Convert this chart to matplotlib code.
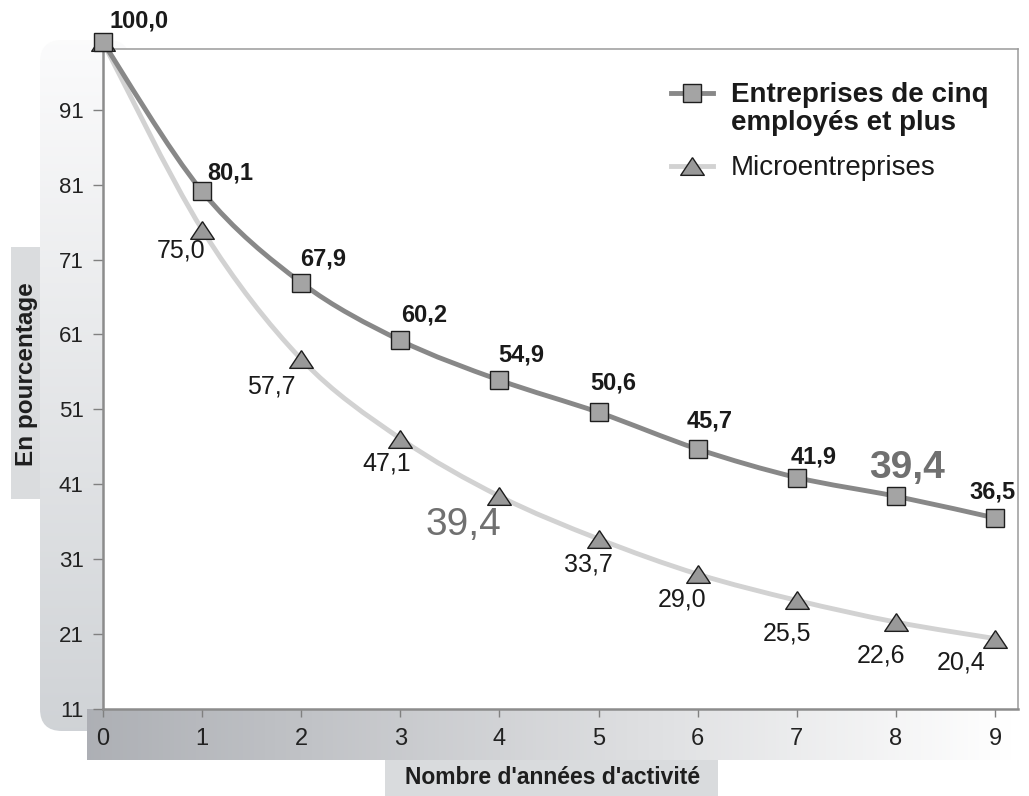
import numpy as np
import matplotlib.pyplot as plt
from matplotlib.path import Path
from matplotlib.patches import PathPatch, FancyBboxPatch, Rectangle
from matplotlib.lines import Line2D

plt.rcParams["font.family"] = ["Liberation Sans", "DejaVu Sans"]

# ---- data ----
years = [0, 1, 2, 3, 4, 5, 6, 7, 8, 9]
ent_vals = [100.0, 80.1, 67.9, 60.2, 54.9, 50.6, 45.7, 41.9, 39.4, 36.5]
micro_vals = [100.0, 75.0, 57.7, 47.1, 39.4, 33.7, 29.0, 25.5, 22.6, 20.4]
y_ticks = [11, 21, 31, 41, 51, 61, 71, 81, 91]
ent_name = "Entreprises de cinq\nemployés et plus"
micro_name = "Microentreprises"
x_title = "Nombre d'années d'activité"
y_title = "En pourcentage"

# label placement (pixel offsets from the marker), None = no label
ent_off = [(36, 21), (28, 18), (22, 24), (24, 25), (22, 25), (15, 29),
           (12, 28), (17, 21), (11, 28), (-3, 26)]
micro_off = [None, (-21, -21), (-30, -27), (-14, -25), (-36, -29), (-10, -26),
             (-16, -25), (-10, -33), (-15, -33), (-34, -24)]
ent_big, micro_big = 8, 4

W, H = 1029, 796
dark_line = "#888888"
light_line = "#d2d2d2"


def fmt(v):
    return f"{v:.1f}".replace(".", ",")


def smooth_path(xs, ys):
    """Catmull-Rom through the points, as cubic beziers."""
    p = np.column_stack([xs, ys]).astype(float)
    ext = np.vstack([p[0], p, p[-1]])
    verts, codes = [p[0]], [Path.MOVETO]
    for i in range(len(p) - 1):
        p0, p1, p2, p3 = ext[i], ext[i + 1], ext[i + 2], ext[i + 3]
        verts += [p1 + (p2 - p0) / 6, p2 - (p3 - p1) / 6, p2]
        codes += [Path.CURVE4] * 3
    return Path(verts, codes)


fig = plt.figure(figsize=(W / 100, H / 100), dpi=100)

# background decorations in pixel coordinates
bg = fig.add_axes([0, 0, 1, 1], zorder=-1)
bg.set_xlim(0, W)
bg.set_ylim(H, 0)
bg.axis("off")

panel = FancyBboxPatch((40, 40), 90, 691, boxstyle="round,pad=0,rounding_size=22",
                       fc="none", ec="none")
bg.add_patch(panel)
vgrad = np.linspace(0, 1, 256)[:, None]
c_top, c_bot = np.array([0.985, 0.985, 0.988]), np.array([0.815, 0.827, 0.840])
img = c_top + (c_bot - c_top) * vgrad[..., None]
im = bg.imshow(img, extent=(40, 130, 731, 40), aspect="auto", origin="upper")
im.set_clip_path(panel)

hgrad = np.linspace(0, 1, 256)[None, :]
c_l, c_r = np.array([0.68, 0.69, 0.71]), np.array([1.0, 1.0, 1.0])
img2 = c_l + (c_r - c_l) * hgrad[..., None]
bg.imshow(img2, extent=(87, 1015, 760, 709), aspect="auto", origin="upper")

bg.add_patch(Rectangle((11, 247), 29, 252, fc="#dadcde", ec="none"))
bg.add_patch(Rectangle((385, 760), 333, 36, fc="#d9dbdd", ec="none"))
bg.text(27, 374, y_title, rotation=90, ha="center", va="center",
        fontsize=17.5, fontweight="bold", color="#1e1e1e")
bg.text(553, 778, x_title, ha="center", va="center",
        fontsize=16.5, fontweight="bold", color="#1e1e1e")

# main axes
ax = fig.add_axes([103 / W, (H - 709) / H, (1018 - 103) / W, (709 - 49) / H])
ax.set_facecolor("white")
ax.set_xlim(0, 9.232)
ax.set_ylim(11, 99.1)
ax.set_xticks(years)
ax.set_yticks(y_ticks)
for side in ["left", "bottom"]:
    ax.spines[side].set_color("#8c8c8c")
    ax.spines[side].set_linewidth(1.8)
for side in ["top", "right"]:
    ax.spines[side].set_color("#9a9a9a")
    ax.spines[side].set_linewidth(1.1)
ax.tick_params(axis="y", direction="out", length=7, width=1, color="#808080",
               labelsize=16, pad=7, labelcolor="#222222")
ax.tick_params(axis="x", direction="out", length=6, width=1, color="#808080",
               labelsize=17, pad=8, labelcolor="#222222")

ax.add_patch(PathPatch(smooth_path(years, micro_vals), fc="none", ec=light_line,
                       lw=3.5, capstyle="round", zorder=2, clip_on=False))
ax.add_patch(PathPatch(smooth_path(years, ent_vals), fc="none", ec=dark_line,
                       lw=3.5, capstyle="round", zorder=3, clip_on=False))

tri = [(0, 0.75), (-1, -0.75), (1, -0.75), (0, 0.75)]
ax.plot(years, micro_vals, ls="none", marker=tri, ms=17, mfc="#999999",
        mec="#1e1e1e", mew=1.0, zorder=4, clip_on=False)
ax.plot(years, ent_vals, ls="none", marker="s", ms=13, mfc="#a4a4a4",
        mec="#1e1e1e", mew=1.0, zorder=5, clip_on=False)

for i, (x, v) in enumerate(zip(years, ent_vals)):
    big = i == ent_big
    ax.annotate(fmt(v), (x, v), xytext=ent_off[i], textcoords="offset pixels",
                ha="center", va="center", fontweight="bold",
                fontsize=28 if big else 17, annotation_clip=False,
                color="#707070" if big else "#1a1a1a", zorder=6)
for i, (x, v) in enumerate(zip(years, micro_vals)):
    if micro_off[i] is None:
        continue
    big = i == micro_big
    ax.annotate(fmt(v), (x, v), xytext=micro_off[i], textcoords="offset pixels",
                ha="center", va="center",
                fontsize=28 if big else 18, annotation_clip=False,
                color="#707070" if big else "#1a1a1a", zorder=6)

handles = [
    Line2D([], [], color=dark_line, lw=3.5, marker="s", ms=13, mfc="#a4a4a4",
           mec="#1e1e1e", mew=1.0),
    Line2D([], [], color=light_line, lw=3.5, marker=tri, ms=17, mfc="#999999",
           mec="#1e1e1e", mew=1.0),
]
leg = ax.legend(handles, [ent_name, micro_name], loc="upper left",
                bbox_to_anchor=(671 / W, 1 - 82 / H), bbox_transform=fig.transFigure,
                frameon=False, fontsize=20, borderpad=0, borderaxespad=0,
                handlelength=1.5, handletextpad=0.65, labelspacing=0.68,
                handleheight=1.0)
leg.get_texts()[0].set_fontweight("bold")
leg.get_texts()[0].set_linespacing(1.12)
for t in leg.get_texts():
    t.set_color("#1a1a1a")
for row in leg._legend_handle_box.get_children():
    for entry in row.get_children():
        entry.align = "top"

fig.savefig("out.png", dpi=100)
